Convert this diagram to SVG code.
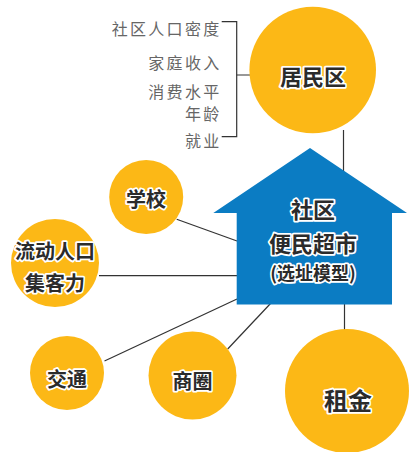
<svg xmlns="http://www.w3.org/2000/svg" width="409" height="452" viewBox="0 0 409 452">
<style>
.c{fill:#fcb816}
.ln{stroke:#333;stroke-width:1.2;fill:none}
.t{font-family:"Noto Sans CJK SC",sans-serif;font-weight:bold;fill:#2b2b2b;stroke:#fff;stroke-width:3.5;paint-order:stroke;stroke-linejoin:round;text-anchor:middle;dominant-baseline:central}
.g{font-family:"Noto Sans CJK SC",sans-serif;font-size:16px;fill:#666;text-anchor:end;dominant-baseline:central;letter-spacing:2.3px}
</style>
<rect width="409" height="452" fill="#fff"/>
<g id="connectors">
<line class="ln" x1="343.5" y1="130" x2="343.5" y2="172"/>
<line class="ln" x1="176.7" y1="219.3" x2="237" y2="241"/>
<line class="ln" x1="99" y1="275.7" x2="237" y2="275.7"/>
<line class="ln" x1="104.5" y1="361" x2="237" y2="299"/>
<line class="ln" x1="227.7" y1="349" x2="271" y2="303"/>
<line class="ln" x1="344.5" y1="303" x2="344.5" y2="330"/>
<polyline class="ln" points="221.7,21.7 236.7,21.7 236.7,136.7 221.7,136.7"/>
<line class="ln" x1="236.7" y1="75" x2="272" y2="75"/>
</g>
<g id="factors">
<text class="g" x="221.5" y="28">社区人口密度</text>
<text class="g" x="221.5" y="62">家庭收入</text>
<text class="g" x="221.5" y="91">消费水平</text>
<text class="g" x="221.5" y="113">年龄</text>
<text class="g" x="221.5" y="140">就业</text>
</g>
<g id="juminqu">
<circle class="c" cx="312.7" cy="70" r="63.3"/>
<text class="t" x="313" y="75" font-size="22">居民区</text>
</g>
<g id="store">
<polygon fill="#0b7cc3" points="310,148 407,213 392,213 392,304.5 236.7,304.5 236.7,213 213.3,213"/>
<text class="t" x="313" y="208" font-size="22">社区</text>
<text class="t" x="313" y="242" font-size="22">便民超市</text>
<text class="t" x="313" y="272" font-size="18">(选址模型)</text>
</g>
<g id="xuexiao">
<circle class="c" cx="146.2" cy="197" r="37"/>
<text class="t" x="146" y="198" font-size="20">学校</text>
</g>
<g id="liudong">
<circle class="c" cx="55" cy="263" r="44"/>
<text class="t" x="55" y="250" font-size="20">流动人口</text>
<text class="t" x="55" y="282" font-size="20">集客力</text>
</g>
<g id="jiaotong">
<circle class="c" cx="67" cy="373" r="37"/>
<text class="t" x="67" y="378" font-size="20">交通</text>
</g>
<g id="shangquan">
<circle class="c" cx="192.5" cy="375.5" r="44"/>
<text class="t" x="192.5" y="380" font-size="20">商圈</text>
</g>
<g id="zujin">
<circle class="c" cx="347" cy="391" r="62"/>
<text class="t" x="348" y="399" font-size="24">租金</text>
</g>
</svg>
